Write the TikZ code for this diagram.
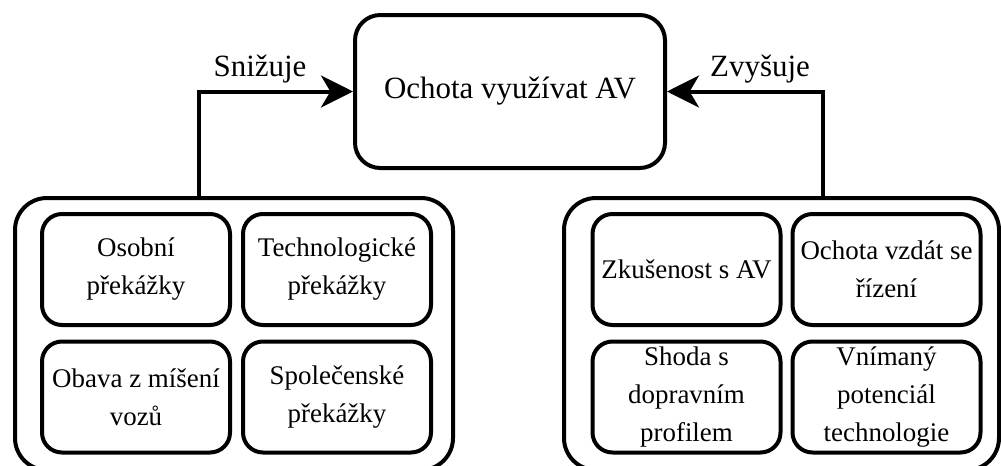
\documentclass[tikz,border=0pt]{standalone}
\usepackage{fontspec}
\setmainfont{Liberation Serif}
\usetikzlibrary{arrows.meta}
\begin{document}
\begin{tikzpicture}[x=0.75pt,y=-0.75pt,
  frame/.style={draw,line width=3pt,rounded corners=24pt,inner sep=0pt},
  mainbox/.style={draw,line width=3pt,rounded corners=19pt,inner sep=0pt,
    minimum width=232.5pt,minimum height=114.75pt,font=\fontsize{23.2}{27}\selectfont},
  itembox/.style={draw,line width=3pt,rounded corners=15pt,inner sep=0pt,align=center,
    minimum width=141pt,minimum height=83.25pt,font=\fontsize{20.2}{28.5}\selectfont},
  link/.style={line width=3pt,-{Stealth[length=24pt,width=24pt,inset=7pt]}},
  tag/.style={font=\fontsize{23.2}{27}\selectfont}
]
\clip (0,0) rectangle (1001,465);

% central outcome
\node[mainbox] (main) at (510,91.5) {Ochota využívat AV};

% group frames
\node[frame,minimum width=328.5pt,minimum height=204pt] (barriers) at (234,334) {};
\node[frame,minimum width=326.25pt,minimum height=204pt] (drivers) at (781.5,334) {};

% barriers
\node[itembox] (b1) at (136,269.5) {Osobní\\překážky};
\node[itembox] (b2) at (337,269.5) {Technologické\\překážky};
\node[itembox] (b3) at (136,397) {Obava z míšení\\vozů};
\node[itembox] (b4) at (337,397) {Společenské\\překážky};

% drivers
\node[itembox] (d1) at (686.5,269.5) {Zkušenost s AV};
\node[itembox] (d2) at (886.5,269.5) {Ochota vzdát se\\řízení};
\node[itembox] (d3) at (686.5,397) {Shoda s\\dopravním\\profilem};
\node[itembox] (d4) at (886.5,397) {Vnímaný\\potenciál\\technologie};

% connectors
\path (barriers.north) ++(-35,0) coordinate (bfoot);
\path (drivers.north) ++(41.5,0) coordinate (dfoot);
\draw[link] (bfoot) |- (main.west);
\draw[link] (dfoot) |- (main.east);

\node[tag] (lower) at (260,69) {Snižuje};
\node[tag] (raise) at (760,69) {Zvyšuje};
\end{tikzpicture}
\end{document}
